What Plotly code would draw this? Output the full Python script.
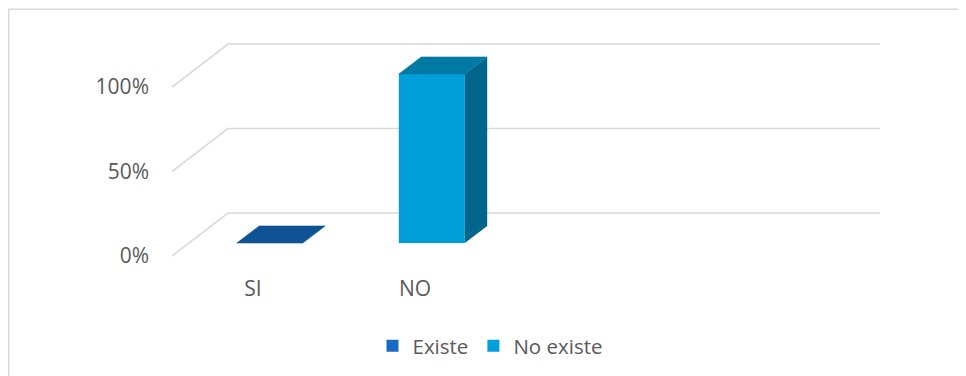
import plotly.graph_objects as go

# ---- data ----
categories = ["SI", "NO"]
series_names = ["Existe", "No existe"]
values = [0, 100]          # percent
y_ticks = [0, 50, 100]
y_tick_labels = ["0%", "50%", "100%"]

front_colors = ["#1A69C4", "#009FD9"]
top_colors = ["#0F5296", "#0079A3"]
side_colors = ["#0C4478", "#00658A"]

# ---- geometry (page pixel helpers; page body has an 8px margin) ----
OFF = 8
W, H = 966, 376
L, R, T, B = 172, 880, 30, 262           # plot area in page pixels
slot_px = 162.0                          # pixels per category slot
pct_px = 1.69                            # pixels per percent
zero_px = 256.0                          # pixel row of 0% on the front plane

x_min = -0.5
x_max = x_min + (R - L) / slot_px
y_min = -(B - zero_px) / pct_px
y_max = (zero_px - T) / pct_px

Dx = 56 / slot_px                        # depth vector in data units
Dy = 43 / pct_px
bar_w = 66 / slot_px
f0, f1 = 0.3, 0.7                        # bar depth range

fig = go.Figure()

grid_color = "#D9D9D9"
for v in y_ticks:
    fig.add_shape(type="path", xref="x", yref="y", layer="below",
                  path=f"M {x_min},{v} L {x_min + Dx},{v + Dy} L {x_max},{v + Dy}",
                  line=dict(color=grid_color, width=1.6))

for i, (cat, name, v) in enumerate(zip(categories, series_names, values)):
    xc = i + f0 * Dx
    base = f0 * Dy
    left, right = xc - bar_w / 2, xc + bar_w / 2
    ddx, ddy = (f1 - f0) * Dx, (f1 - f0) * Dy
    # front face
    fig.add_trace(go.Bar(
        x=[xc], y=[v], base=[base], width=[bar_w], name=name,
        marker=dict(color=front_colors[i], line=dict(width=0)),
        showlegend=True))
    # side face
    if v > 0:
        fig.add_trace(go.Scatter(
            x=[right, right, right + ddx, right + ddx, right],
            y=[base, base + v, base + v + ddy, base + ddy, base],
            fill="toself", fillcolor=side_colors[i], mode="lines",
            line=dict(width=0, color=side_colors[i]),
            showlegend=False, hoverinfo="skip"))
    # top face
    fig.add_trace(go.Scatter(
        x=[left, right, right + ddx, left + ddx, left],
        y=[base + v, base + v, base + v + ddy, base + v + ddy, base + v],
        fill="toself", fillcolor=top_colors[i], mode="lines",
        line=dict(width=0.5, color=top_colors[i]),
        showlegend=False, hoverinfo="skip"))

# chart border
pw, ph = R - L, B - T
fig.add_shape(type="rect", xref="paper", yref="paper",
              x0=(8.8 - L) / pw, x1=(985 - L) / pw,
              y0=(B - 395) / ph, y1=(B - 9.3) / ph,
              line=dict(color="#D9D9D9", width=1.5), fillcolor="rgba(0,0,0,0)",
              layer="below")

font_family = "Open Sans"
fig.update_layout(
    width=W, height=H,
    margin=dict(l=L - OFF, r=W + OFF - R, t=T - OFF, b=H + OFF - B, pad=0),
    paper_bgcolor="white", plot_bgcolor="white",
    barmode="overlay",
    font=dict(family=font_family, size=21, color="#595959"),
    xaxis=dict(range=[x_min, x_max], tickvals=list(range(len(categories))),
               ticktext=categories, showgrid=False, zeroline=False,
               showline=False, ticks="", ticklabelstandoff=12,
               tickfont=dict(size=21, color="#595959")),
    yaxis=dict(range=[y_min, y_max], tickvals=y_ticks, ticktext=y_tick_labels,
               showgrid=False, zeroline=False, showline=False, ticks="",
               ticklabelstandoff=22, tickfont=dict(size=21, color="#595959")),
    legend=dict(orientation="h", xref="container", yref="container",
                x=(490 - OFF) / W, xanchor="center",
                y=1 - (346 - OFF) / H, yanchor="middle",
                font=dict(size=20.5, color="#595959"), itemwidth=30,
                bgcolor="rgba(0,0,0,0)"),
    showlegend=True,
)

fig.write_html("out.html")
